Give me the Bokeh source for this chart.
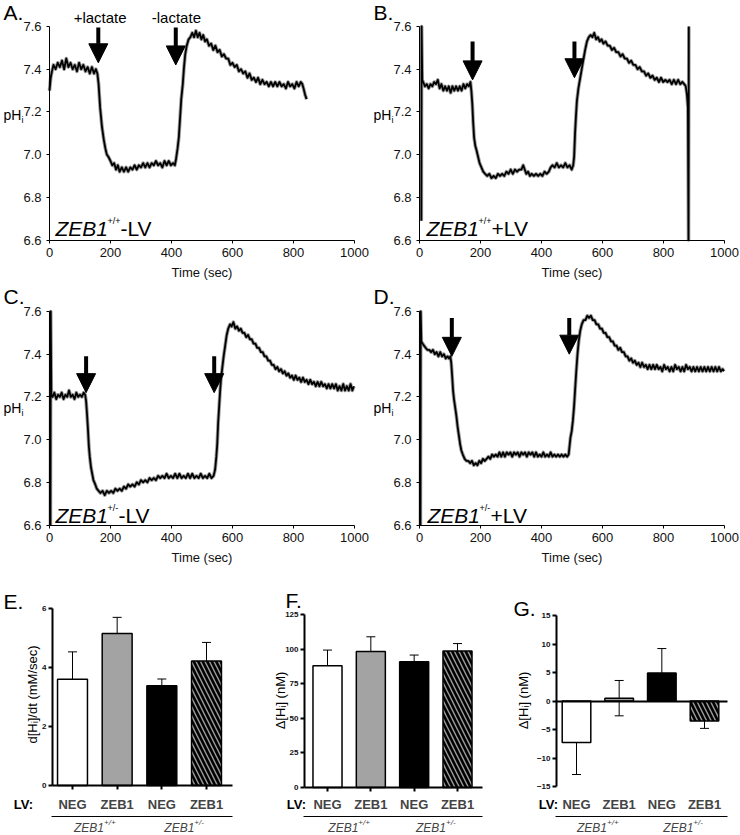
from math import pi
from bokeh.plotting import figure
from bokeh.layouts import column, row
from bokeh.models import (Range1d, FixedTicker, PrintfTickFormatter, Label, Arrow, LinearAxis,
                          NormalHead, ColumnDataSource, Whisker, TeeHead)
from bokeh.embed import file_html
from bokeh.resources import INLINE

FONT = "Liberation Sans"

# ---------------- pHi traces: (time in s, pHi) ----------------
trace_A = [(0, 7.30), (4, 7.36), (8, 7.39), (13, 7.42), (20, 7.40), (27, 7.43), (34, 7.41), (41, 7.44),
           (48, 7.40), (55, 7.45), (62, 7.41), (69, 7.43), (76, 7.40), (83, 7.42), (90, 7.39), (97, 7.43),
           (104, 7.40), (111, 7.42), (118, 7.39), (125, 7.41), (132, 7.38), (139, 7.41), (146, 7.38),
           (152, 7.40), (157, 7.38), (161, 7.33), (166, 7.22), (172, 7.13), (178, 7.07), (183, 7.03),
           (188, 7.00), (193, 6.99), (200, 6.97), (206, 6.95), (212, 6.96), (218, 6.93), (224, 6.95),
           (230, 6.92), (237, 6.94), (244, 6.92), (251, 6.94), (258, 6.92), (265, 6.94), (272, 6.93),
           (279, 6.95), (286, 6.93), (293, 6.95), (300, 6.94), (307, 6.96), (314, 6.94), (321, 6.96),
           (328, 6.94), (335, 6.96), (342, 6.95), (349, 6.97), (356, 6.95), (363, 6.96), (370, 6.94),
           (377, 6.97), (384, 6.95), (391, 6.97), (398, 6.95), (405, 6.96), (411, 6.95), (415, 6.98),
           (420, 7.03), (424, 7.08), (428, 7.17), (432, 7.26), (437, 7.33), (441, 7.41), (445, 7.47),
           (450, 7.51), (456, 7.54), (462, 7.55), (468, 7.57), (474, 7.55), (480, 7.58), (486, 7.55),
           (492, 7.57), (498, 7.54), (504, 7.56), (510, 7.53), (516, 7.54), (523, 7.51), (530, 7.52),
           (537, 7.49), (544, 7.51), (551, 7.48), (558, 7.49), (565, 7.46), (572, 7.47), (579, 7.45),
           (586, 7.45), (593, 7.42), (600, 7.43), (607, 7.41), (614, 7.42), (621, 7.39), (628, 7.40),
           (635, 7.38), (642, 7.39), (649, 7.36), (656, 7.38), (663, 7.35), (670, 7.36), (677, 7.34),
           (684, 7.36), (691, 7.33), (698, 7.35), (705, 7.33), (712, 7.34), (719, 7.32), (726, 7.34),
           (733, 7.32), (740, 7.34), (747, 7.32), (754, 7.34), (761, 7.32), (768, 7.33), (775, 7.31),
           (782, 7.34), (789, 7.32), (796, 7.33), (803, 7.31), (810, 7.34), (817, 7.32), (824, 7.34),
           (829, 7.33), (833, 7.31), (838, 7.28), (843, 7.26)]

trace_B = [(6, 6.69), (7, 7.60), (9, 7.35), (12, 7.34), (18, 7.32), (24, 7.33), (30, 7.31), (36, 7.33),
           (42, 7.32), (48, 7.34), (54, 7.33), (60, 7.35), (66, 7.31), (72, 7.33), (78, 7.30), (84, 7.32),
           (90, 7.30), (96, 7.32), (102, 7.29), (108, 7.32), (114, 7.30), (120, 7.32), (126, 7.30),
           (132, 7.32), (138, 7.30), (144, 7.33), (150, 7.31), (156, 7.33), (162, 7.32), (167, 7.34),
           (170, 7.30), (173, 7.24), (176, 7.15), (179, 7.08), (183, 7.04), (187, 7.02), (192, 6.99),
           (197, 6.96), (203, 6.94), (209, 6.92), (215, 6.91), (222, 6.90), (229, 6.91), (236, 6.89),
           (243, 6.90), (250, 6.89), (257, 6.91), (264, 6.90), (271, 6.91), (278, 6.90), (285, 6.92),
           (292, 6.91), (299, 6.93), (306, 6.91), (313, 6.93), (320, 6.92), (327, 6.93), (334, 6.93),
           (340, 6.95), (345, 6.93), (350, 6.91), (356, 6.92), (362, 6.90), (368, 6.91), (375, 6.90),
           (382, 6.91), (389, 6.90), (396, 6.91), (403, 6.90), (410, 6.92), (417, 6.91), (424, 6.92),
           (430, 6.94), (436, 6.95), (443, 6.94), (450, 6.96), (457, 6.94), (464, 6.95), (471, 6.94),
           (478, 6.96), (485, 6.94), (492, 6.95), (499, 6.93), (504, 6.95), (507, 6.99), (510, 7.10),
           (513, 7.18), (516, 7.25), (521, 7.31), (527, 7.36), (533, 7.41), (538, 7.45), (543, 7.49),
           (549, 7.53), (555, 7.55), (561, 7.56), (567, 7.55), (573, 7.57), (579, 7.54), (585, 7.55),
           (591, 7.53), (597, 7.54), (603, 7.52), (610, 7.53), (617, 7.51), (624, 7.51), (631, 7.49),
           (638, 7.50), (645, 7.48), (652, 7.48), (659, 7.46), (666, 7.47), (673, 7.45), (680, 7.45),
           (687, 7.43), (694, 7.44), (701, 7.42), (708, 7.42), (715, 7.40), (722, 7.41), (729, 7.39),
           (736, 7.39), (743, 7.37), (750, 7.38), (757, 7.36), (764, 7.37), (771, 7.35), (778, 7.36),
           (785, 7.34), (792, 7.36), (799, 7.34), (806, 7.35), (813, 7.34), (820, 7.35), (827, 7.33),
           (834, 7.35), (841, 7.33), (848, 7.35), (855, 7.33), (862, 7.34), (868, 7.33), (873, 7.32),
           (877, 7.28), (880, 7.22), (882, 6.60), (883, 7.60)]

trace_C = [(3, 6.60), (4, 7.60), (6, 7.21), (10, 7.20), (16, 7.22), (22, 7.19), (28, 7.21), (34, 7.20),
           (40, 7.22), (46, 7.19), (52, 7.21), (58, 7.20), (64, 7.23), (70, 7.20), (76, 7.21), (82, 7.19),
           (88, 7.22), (94, 7.20), (100, 7.21), (106, 7.20), (112, 7.22), (117, 7.21), (120, 7.18),
           (123, 7.12), (126, 7.05), (129, 6.97), (132, 6.92), (136, 6.87), (140, 6.84), (144, 6.81),
           (150, 6.79), (155, 6.77), (161, 6.76), (167, 6.75), (174, 6.76), (181, 6.74), (188, 6.76),
           (195, 6.75), (202, 6.76), (209, 6.75), (216, 6.77), (223, 6.76), (230, 6.77), (237, 6.76),
           (244, 6.78), (251, 6.77), (258, 6.79), (265, 6.78), (272, 6.79), (279, 6.78), (286, 6.80),
           (293, 6.79), (300, 6.81), (307, 6.80), (314, 6.81), (321, 6.80), (328, 6.82), (335, 6.81),
           (342, 6.82), (349, 6.81), (356, 6.83), (363, 6.82), (370, 6.83), (377, 6.82), (384, 6.84),
           (391, 6.82), (398, 6.83), (405, 6.82), (412, 6.84), (419, 6.82), (426, 6.84), (433, 6.82),
           (440, 6.83), (447, 6.82), (454, 6.84), (461, 6.82), (468, 6.84), (475, 6.82), (482, 6.83),
           (489, 6.82), (496, 6.84), (503, 6.82), (510, 6.83), (517, 6.82), (524, 6.84), (531, 6.82),
           (538, 6.83), (543, 6.86), (547, 6.92), (550, 6.98), (553, 7.08), (556, 7.15), (559, 7.22),
           (562, 7.28), (566, 7.33), (571, 7.39), (576, 7.44), (581, 7.49), (586, 7.52), (592, 7.54),
           (597, 7.53), (603, 7.55), (609, 7.52), (615, 7.53), (621, 7.51), (627, 7.52), (633, 7.50),
           (639, 7.50), (645, 7.48), (651, 7.49), (657, 7.47), (663, 7.47), (669, 7.45), (675, 7.45),
           (681, 7.43), (687, 7.43), (693, 7.41), (699, 7.41), (705, 7.39), (711, 7.39), (717, 7.37),
           (723, 7.37), (729, 7.35), (735, 7.35), (741, 7.33), (747, 7.34), (753, 7.32), (759, 7.33),
           (765, 7.31), (771, 7.32), (777, 7.30), (783, 7.31), (789, 7.29), (795, 7.30), (801, 7.28),
           (807, 7.30), (813, 7.28), (819, 7.29), (825, 7.27), (831, 7.29), (837, 7.27), (843, 7.28),
           (849, 7.26), (855, 7.28), (861, 7.26), (867, 7.27), (873, 7.25), (879, 7.27), (885, 7.25),
           (891, 7.27), (897, 7.25), (903, 7.26), (909, 7.24), (915, 7.26), (921, 7.24), (927, 7.26),
           (933, 7.24), (939, 7.26), (945, 7.23), (951, 7.25), (957, 7.23), (963, 7.26), (969, 7.23),
           (975, 7.25), (981, 7.23), (987, 7.26), (993, 7.23), (998, 7.25)]

trace_D = [(3, 6.60), (4, 7.60), (6, 7.46), (10, 7.45), (15, 7.44), (20, 7.43), (26, 7.42), (32, 7.42),
           (38, 7.41), (44, 7.42), (50, 7.40), (56, 7.41), (62, 7.39), (68, 7.41), (74, 7.39), (80, 7.40),
           (86, 7.38), (92, 7.39), (97, 7.38), (101, 7.39), (104, 7.36), (107, 7.30), (110, 7.23),
           (113, 7.19), (117, 7.15), (121, 7.11), (125, 7.06), (129, 7.02), (133, 6.98), (137, 6.95),
           (142, 6.93), (148, 6.91), (154, 6.90), (160, 6.90), (166, 6.89), (172, 6.90), (178, 6.88),
           (184, 6.89), (190, 6.88), (196, 6.90), (202, 6.89), (208, 6.91), (214, 6.90), (220, 6.91),
           (226, 6.92), (232, 6.91), (238, 6.93), (244, 6.92), (250, 6.93), (256, 6.92), (262, 6.94),
           (268, 6.92), (274, 6.94), (280, 6.92), (286, 6.94), (292, 6.93), (298, 6.94), (304, 6.92),
           (310, 6.94), (316, 6.93), (322, 6.94), (328, 6.92), (334, 6.94), (340, 6.93), (346, 6.94),
           (352, 6.92), (358, 6.94), (364, 6.93), (370, 6.94), (376, 6.92), (382, 6.94), (388, 6.92),
           (394, 6.93), (400, 6.92), (406, 6.94), (412, 6.92), (418, 6.93), (424, 6.92), (430, 6.94),
           (436, 6.92), (442, 6.93), (448, 6.92), (454, 6.93), (460, 6.92), (466, 6.93), (472, 6.92),
           (478, 6.93), (484, 6.92), (489, 6.93), (492, 6.97), (495, 7.01), (499, 7.04), (503, 7.09),
           (507, 7.16), (510, 7.23), (514, 7.32), (518, 7.40), (522, 7.46), (527, 7.51), (532, 7.54),
           (538, 7.56), (544, 7.56), (550, 7.58), (556, 7.57), (562, 7.58), (568, 7.56), (574, 7.56),
           (580, 7.54), (586, 7.54), (592, 7.52), (598, 7.52), (604, 7.50), (610, 7.50), (616, 7.48),
           (622, 7.48), (628, 7.46), (634, 7.46), (640, 7.44), (646, 7.44), (652, 7.42), (658, 7.43),
           (664, 7.41), (670, 7.41), (676, 7.39), (682, 7.39), (688, 7.37), (694, 7.38), (700, 7.36),
           (706, 7.37), (712, 7.35), (718, 7.36), (724, 7.34), (730, 7.36), (736, 7.34), (742, 7.35),
           (748, 7.33), (754, 7.35), (760, 7.33), (766, 7.35), (772, 7.33), (778, 7.35), (784, 7.33),
           (790, 7.34), (796, 7.32), (802, 7.35), (808, 7.33), (814, 7.34), (820, 7.32), (826, 7.34),
           (832, 7.32), (838, 7.35), (844, 7.33), (850, 7.34), (856, 7.32), (862, 7.34), (868, 7.32),
           (874, 7.35), (880, 7.33), (886, 7.34), (892, 7.32), (898, 7.34), (904, 7.32), (910, 7.34),
           (916, 7.32), (922, 7.34), (928, 7.32), (934, 7.34), (940, 7.32), (946, 7.34), (952, 7.32),
           (958, 7.34), (964, 7.32), (970, 7.34), (976, 7.32), (982, 7.34), (988, 7.32), (994, 7.33),
           (998, 7.32)]

# lactate arrows: (time, pHi at tail, pHi at tip)
arrows_A = [(160, 7.595, 7.43), (414, 7.595, 7.42)]
arrows_B = [(174, 7.53, 7.35), (508, 7.53, 7.36)]
arrows_C = [(120, 7.39, 7.22), (540, 7.39, 7.22)]
arrows_D = [(106, 7.57, 7.39), (491, 7.57, 7.40)]

time_ticks = [0, 200, 400, 600, 800, 1000]
ph_ticks = [6.6, 6.8, 7.0, 7.2, 7.4, 7.6]

# ---------------- bar charts ----------------
bar_categories = ["NEG +/+", "ZEB1 +/+", "NEG +/-", "ZEB1 +/-"]
bar_labels = ["NEG", "ZEB1", "NEG", "ZEB1"]
genotypes = ["+/+", "+/-"]
rate_mean = [3.60, 5.15, 3.38, 4.22]
rate_err = [0.93, 0.55, 0.23, 0.63]
delta_mean = [88.0, 98.3, 90.8, 98.7]
delta_err = [11.3, 10.6, 4.9, 5.3]
recov_mean = [-7.3, 0.5, 4.9, -3.5]
recov_err = [5.6, 3.1, 4.3, 1.3]
rate_ticks = [0, 2, 4, 6]
delta_ticks = [0, 25, 50, 75, 100, 125]
recov_ticks = [-15, -10, -5, 0, 5, 10, 15]
bar_fill = ["#ffffff", "#a3a3a3", "#000000", "#9a9a9a"]
bar_hatch = [" ", " ", " ", "\\"]

ROW_TOPS = [0, 280, 568]
ROW_HEIGHTS = [280, 288, 267]


class Geo:
    """A figure occupying page rect (left, top, w, h) whose frame fills it; data box
    (x0..x1, y0..y1) is mapped onto page box (fl..fr, ft..fb)."""
    def __init__(self, left, top, w, h, fl, fr, ft, fb, x0, x1, y0, y1):
        self.w, self.h = w, h
        self.fl, self.ft = fl, ft
        self.x0, self.y1 = x0, y1
        self.sx = (x1 - x0) / (fr - fl)
        self.sy = (y1 - y0) / (fb - ft)
        self.X0 = x0 - (fl - left) * self.sx
        self.X1 = x1 + (left + w - fr) * self.sx
        self.Y1 = y1 + (ft - top) * self.sy
        self.Y0 = y0 - (top + h - fb) * self.sy

    def x(self, px):
        return self.x0 + (px - self.fl) * self.sx

    def y(self, py):
        return self.y1 - (py - self.ft) * self.sy


def txt(p, g, px, py, text, size, align="left", style="normal", angle=0.0, x_offset=0):
    p.add_layout(Label(x=g.x(px), y=g.y(py), text=text, text_font=FONT,
                       text_font_size=f"{size}px", text_font_style=style, text_align=align,
                       text_baseline="middle", angle=angle, x_offset=x_offset, text_color="black"))


def new_fig(g):
    p = figure(width=g.w, height=g.h, min_border=0, min_border_left=0, min_border_right=0,
               min_border_top=0, min_border_bottom=0, output_backend="svg",
               toolbar_location=None, outline_line_color=None, title=None,
               x_axis_location=None, y_axis_location=None,
               x_range=Range1d(g.X0, g.X1), y_range=Range1d(g.Y0, g.Y1),
               background_fill_color="white", border_fill_color="white")
    p.grid.visible = False
    return p


def style_axis(ax, size="13px", bold=False, lw=1, tick_out=3, standoff=4):
    ax.axis_line_color = "black"
    ax.axis_line_width = lw
    ax.major_tick_line_color = "black"
    ax.major_tick_line_width = lw
    ax.major_tick_out = tick_out
    ax.major_tick_in = 0
    ax.minor_tick_line_color = None
    ax.major_label_text_font = FONT
    ax.major_label_text_font_size = size
    ax.major_label_text_font_style = "bold" if bold else "normal"
    ax.major_label_text_color = "#111111"
    ax.major_label_standoff = standoff
    ax.axis_label_text_font = FONT
    ax.axis_label_text_font_size = "13px"
    ax.axis_label_text_font_style = "normal"
    ax.axis_label_text_color = "#111111"
    ax.axis_label_standoff = 4


def line_panel(left, r, fl, ft, trace, arrows, letter, sup, lv, zeb_px, zeb_py, ph_px, ph_py,
               lactate=False):
    top = ROW_TOPS[r]
    g = Geo(left, top, 370, ROW_HEIGHTS[r], fl, fl + 305, ft, ft + 213.5, 0, 1000, 6.6, 7.6)
    p = new_fig(g)
    xa = LinearAxis(fixed_location=6.6, bounds=(0, 1000), ticker=FixedTicker(ticks=time_ticks),
                    formatter=PrintfTickFormatter(format="%d"), axis_label="Time (sec)")
    ya = LinearAxis(fixed_location=0, bounds=(6.6, 7.6), ticker=FixedTicker(ticks=ph_ticks),
                    formatter=PrintfTickFormatter(format="%.1f"))
    style_axis(xa, standoff=5)
    style_axis(ya, standoff=5)
    p.add_layout(xa, "below")
    p.add_layout(ya, "left")
    t = [a for a, _ in trace]
    ph = [b for _, b in trace]
    p.line(t, ph, color="#9a9a9a", line_width=3.6, line_join="round")
    p.line(t, ph, color="black", line_width=1.8, line_join="round")
    for (ax_t, tail, tip) in arrows:
        p.add_layout(Arrow(end=NormalHead(size=19, fill_color="black", line_color="black", line_width=1),
                           x_start=ax_t, y_start=tail, x_end=ax_t, y_end=tip,
                           line_color="black", line_width=4))
    txt(p, g, left + 3, top + 12 if r == 0 else top + 16, letter, 21)
    txt(p, g, ph_px, ph_py, "pH", 14)
    txt(p, g, ph_px, ph_py + 5, "i", 9, x_offset=18)
    txt(p, g, zeb_px, zeb_py, "ZEB1", 21, style="italic")
    txt(p, g, zeb_px, zeb_py - 8, sup, 9, x_offset=52)
    sup_w = 13 if sup == "+/+" else 11
    txt(p, g, zeb_px, zeb_py, lv, 21, x_offset=52 + sup_w)
    if lactate:
        txt(p, g, fl + 166 * 0.305, 17, "+lactate", 15, align="center")
        txt(p, g, fl + 416 * 0.305, 17, "-lactate", 15, align="center")
    return p


def bar_panel(left, w, axis_px, right_px, first_c, last_c, top_px, v_top, ref_px, v_ref, means, errs,
              ticks, letter, letter_pos, ylabel, ylabel_pos, lv_px, x_ticks=True):
    step = (last_c - first_c) / 3.0
    fl = first_c - step / 2
    g = Geo(left, ROW_TOPS[2], w, ROW_HEIGHTS[2], fl, fl + 4 * step, top_px, ref_px, 0, 4, v_ref, v_top)
    p = new_fig(g)
    xs = [i + 0.5 for i in range(len(bar_categories))]
    src = ColumnDataSource(dict(x=xs, name=bar_categories, top=means,
                                lower=[m - e for m, e in zip(means, errs)],
                                upper=[m + e for m, e in zip(means, errs)],
                                fill=bar_fill, hatch=bar_hatch))
    p.vbar(x="x", top="top", bottom=0, width=0.67, source=src, fill_color="fill",
           line_color="black", line_width=1.5, hatch_pattern="hatch", hatch_color="black",
           hatch_weight=2.6, hatch_scale=9)
    p.add_layout(Whisker(source=src, base="x", upper="upper", lower="lower", line_color="black",
                         line_width=1,
                         upper_head=TeeHead(size=9, line_color="black", line_width=1),
                         lower_head=TeeHead(size=9, line_color="black", line_width=1)))
    ax_x = g.x(axis_px)
    xa = LinearAxis(fixed_location=0, bounds=(ax_x, g.x(right_px)),
                    ticker=FixedTicker(ticks=xs if x_ticks else []))
    style_axis(xa, lw=2, tick_out=4)
    xa.major_label_text_font_size = "0px"
    xa.major_label_text_alpha = 0
    p.add_layout(xa, "below")
    sep = LinearAxis(fixed_location=g.y(816), bounds=(g.x(axis_px - 1), g.x(right_px)),
                     ticker=FixedTicker(ticks=[]))
    style_axis(sep, lw=1, tick_out=0)
    sep.major_label_text_font_size = "0px"
    sep.major_label_text_alpha = 0
    p.add_layout(sep, "below")
    ya = LinearAxis(fixed_location=ax_x, bounds=(ticks[0], ticks[-1]),
                    ticker=FixedTicker(ticks=ticks))
    style_axis(ya, size="8px", bold=True, lw=2, tick_out=4, standoff=2)
    p.add_layout(ya, "left")
    txt(p, g, lv_px, 804, "LV:", 13, align="center", style="bold")
    for xv, lab in zip(xs, bar_labels):
        p.add_layout(Label(x=xv, y=g.y(804), text=lab, text_font=FONT, text_font_size="13px",
                           text_font_style="bold", text_align="center", text_baseline="middle"))
    for j, gt in enumerate(genotypes):
        cx = (xs[2 * j] + xs[2 * j + 1]) / 2
        sup_w = 11.6 if gt == "+/+" else 9.6
        tot = 30 + sup_w
        p.add_layout(Label(x=cx, y=g.y(827), text="ZEB1", text_font=FONT, text_font_size="12px",
                           text_font_style="italic", text_align="left", text_baseline="middle",
                           x_offset=-tot / 2))
        p.add_layout(Label(x=cx, y=g.y(822), text=gt, text_font=FONT, text_font_size="8px",
                           text_font_style="italic", text_align="left", text_baseline="middle",
                           x_offset=-tot / 2 + 30))
    txt(p, g, letter_pos[0], letter_pos[1], letter, 21)
    txt(p, g, ylabel_pos[0], ylabel_pos[1], ylabel, 13, align="center", angle=pi / 2)
    return p


# ---------------- layout ----------------
pA = line_panel(0, 0, 49, 26, trace_A, arrows_A, "A.", "+/+", "-LV", 55, 228, 3, 114, lactate=True)
pB = line_panel(370, 0, 419, 26, trace_B, arrows_B, "B.", "+/+", "+LV", 426, 228, 373, 114)
pC = line_panel(0, 1, 49, 311, trace_C, arrows_C, "C.", "+/-", "-LV", 55, 515, 3, 407)
pD = line_panel(370, 1, 419, 311, trace_D, arrows_D, "D.", "+/-", "+LV", 427, 515, 373, 407)

pE = bar_panel(0, 250, 52, 232, 72, 206, 608, 6, 785, 0, rate_mean, rate_err, rate_ticks,
               "E.", (3, 601), "d[H\u1d62]/dt (mM/sec)", (32, 694), 23)
pF = bar_panel(250, 240, 304, 482, 327, 457, 614, 125, 787, 0, delta_mean, delta_err, delta_ticks,
               "F.", (285, 600), "\u0394[H\u1d62] (nM)", (280, 700), 296)
pG = bar_panel(490, 250, 556, 727, 576, 704, 615, 15, 786, -15, recov_mean, recov_err, recov_ticks,
               "G.", (513, 608), "\u0394[H\u1d62] (nM)", (523, 700), 548, x_ticks=False)

layout = column(row(pA, pB), row(pC, pD), row(pE, pF, pG))
open("out.html", "w").write(file_html(layout, INLINE))
